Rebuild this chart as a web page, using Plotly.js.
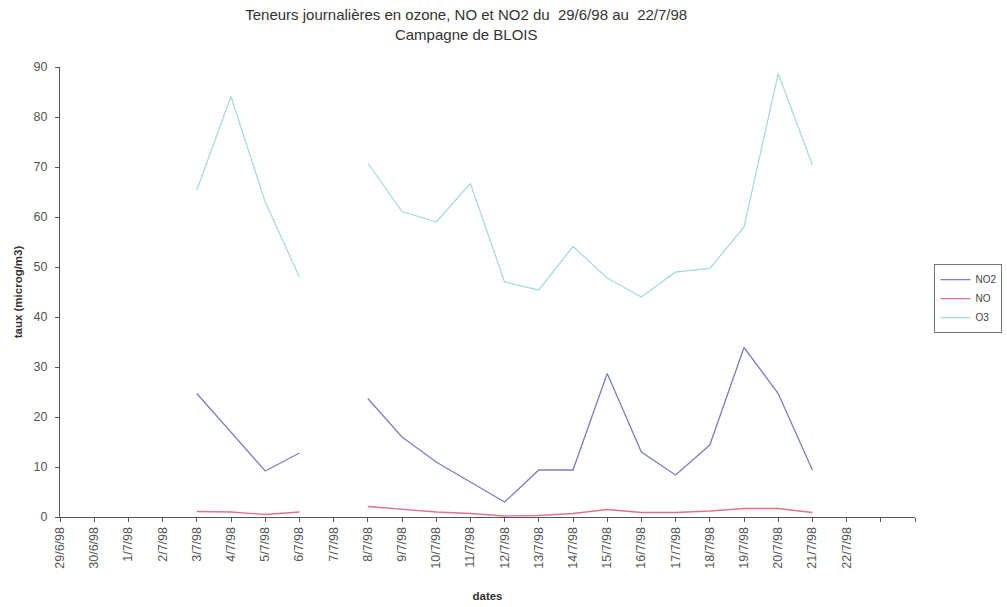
<!DOCTYPE html>
<html>
<head>
<meta charset="utf-8">
<script src="https://cdn.plot.ly/plotly-3.0.1.min.js"></script>
<style>
  html, body { margin: 0; padding: 0; background: #fff; }
  #chart { width: 1007px; height: 607px; }
</style>
</head>
<body>
<div id="chart"></div>
<script>
// Daily dates of the campaign (the two trailing slots are unlabelled)
const dates = ['29/6/98', '30/6/98', '1/7/98', '2/7/98', '3/7/98', '4/7/98', '5/7/98', '6/7/98',
  '7/7/98', '8/7/98', '9/7/98', '10/7/98', '11/7/98', '12/7/98', '13/7/98', '14/7/98',
  '15/7/98', '16/7/98', '17/7/98', '18/7/98', '19/7/98', '20/7/98', '21/7/98', '22/7/98', '', ''];

// Daily mean concentrations (microg/m3); null = no measurement
const no2 = [null, null, null, null, 24.7, 17, 9.2, 12.8, null, 23.7, 16, 11, 7, 3,
  9.4, 9.4, 28.7, 13, 8.4, 14.4, 33.9, 24.7, 9.4, null, null, null];
const no = [null, null, null, null, 1.1, 1.0, 0.5, 1.0, null, 2.1, 1.5, 1.0, 0.7, 0.2,
  0.3, 0.7, 1.5, 0.9, 0.9, 1.2, 1.7, 1.7, 0.9, null, null, null];
const o3 = [null, null, null, null, 65.4, 84.1, 63, 48, null, 70.8, 61.1, 59, 66.7, 47,
  45.4, 54.1, 47.8, 44, 49, 49.7, 58, 88.7, 70.4, null, null, null];

const idx = dates.map((d, i) => i);

const traces = [
  { name: 'NO2', y: no2, color: '#7d7dc6' },
  { name: 'NO', y: no, color: '#e0728c' },
  { name: 'O3', y: o3, color: '#a6dce0' }
].map(s => ({
  type: 'scatter',
  mode: 'lines',
  name: s.name,
  x: idx,
  y: s.y,
  connectgaps: false,
  line: { color: s.color, width: 1.3 }
}));

const axisFont = { family: 'Liberation Sans, Arial, sans-serif', size: 12.5, color: '#555' };

const layout = {
  width: 1007,
  height: 607,
  paper_bgcolor: '#fff',
  plot_bgcolor: '#fff',
  margin: { l: 60, r: 92, t: 67, b: 90 },
  font: { family: 'Liberation Sans, Arial, sans-serif', color: '#333' },
  title: {
    text: 'Teneurs journalières en ozone, NO et NO2 du  29/6/98 au  22/7/98<br>Campagne de BLOIS',
    font: { size: 15, color: '#333' },
    xref: 'container',
    x: 0.463, xanchor: 'center',
    yref: 'container',
    y: 0.967, yanchor: 'middle'
  },
  xaxis: {
    range: [0, 25],
    tickmode: 'array',
    tickvals: idx,
    ticktext: dates,
    tickangle: -90,
    tickfont: axisFont,
    ticks: 'outside',
    ticklen: 4,
    tickcolor: '#555',
    showline: true,
    linecolor: '#555',
    linewidth: 1,
    showgrid: false,
    zeroline: false,
    title: { text: '<b>dates</b>', font: { size: 11.5, color: '#333' }, standoff: 24 }
  },
  yaxis: {
    range: [0, 90],
    dtick: 10,
    tickfont: { family: 'Liberation Sans, Arial, sans-serif', size: 12.5, color: '#555' },
    ticks: 'outside',
    ticklen: 4,
    tickcolor: '#555',
    ticklabelstandoff: 5,
    showline: true,
    linecolor: '#555',
    linewidth: 1,
    showgrid: false,
    zeroline: false,
    title: { text: '<b>taux (microg/m3)</b>', font: { size: 11.5, color: '#333' }, standoff: 8 }
  },
  showlegend: true,
  legend: {
    xref: 'container', yref: 'container',
    x: 0.928, xanchor: 'left',
    y: 0.565, yanchor: 'top',
    bordercolor: '#777',
    borderwidth: 1,
    bgcolor: '#fff',
    font: { size: 10, color: '#444' },
    tracegroupgap: 0,
    itemwidth: 30
  }
};

Plotly.newPlot('chart', traces, layout, { displayModeBar: false, staticPlot: true });
</script>
</body>
</html>
